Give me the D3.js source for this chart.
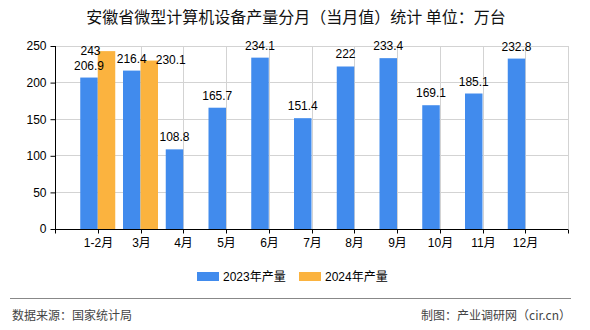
<!DOCTYPE html>
<html><head><meta charset="utf-8">
<script src="https://cdn.jsdelivr.net/npm/d3@7"></script>
<style>body{margin:0;background:#fff}svg{display:block}</style>
</head><body>
<svg id="c" width="590" height="330"></svg>
<script>
const categories = ["1-2月","3月","4月","5月","6月","7月","8月","9月","10月","11月","12月"];
const values2023 = [206.9,216.4,108.8,165.7,234.1,151.4,222,233.4,169.1,185.1,232.8];
const values2024 = [243,230.1,null,null,null,null,null,null,null,null,null];
const seriesNames = ["2023年产量","2024年产量"];
const yTicks = [0,50,100,150,200,250];
const titleText = "安徽省微型计算机设备产量分月（当月值）统计  单位：万台";
const sourceText = "数据来源：国家统计局";
const makerText = "制图：产业调研网（cir.cn）";

const colors = ["#418bed","#fbb33f"];
const font = "'Liberation Sans','Noto Sans CJK SC',sans-serif";
const cjk = "'Noto Sans CJK SC',sans-serif";
const svg = d3.select("#c");
const L=55,R=568,T=46,B=229;
const x = d3.scaleBand().domain(categories).range([L,R]).paddingInner(0).paddingOuter(0.5);
const y = d3.scaleLinear().domain([0,250]).range([B,T]);
const bw = 17.5;
const cx = c => x(c)+x.bandwidth()/2;

svg.append("text").attr("x",296).attr("y",23).attr("text-anchor","middle")
  .attr("font-family",cjk).attr("font-size",16).attr("fill","#111").text(titleText);

// grid
const g = svg.append("g");
g.selectAll("line.h").data(yTicks.filter(d=>d>0)).join("line")
  .attr("x1",L).attr("x2",R).attr("y1",d=>y(d)).attr("y2",d=>y(d))
  .attr("stroke","#d3d3d3").attr("stroke-width",1).attr("shape-rendering","crispEdges");
const vx = categories.map(cx).concat([R]);
g.selectAll("line.v").data(vx).join("line")
  .attr("x1",d=>Math.round(d)).attr("x2",d=>Math.round(d)).attr("y1",T).attr("y2",B)
  .attr("stroke","#d3d3d3").attr("stroke-width",1).attr("shape-rendering","crispEdges");

// bars
const data = categories.map((c,i)=>({c,v:[values2023[i],values2024[i]]}));
[0,1].forEach(s=>{
  const arr = s===0?values2023:values2024;
  svg.append("g").selectAll("rect").data(categories.map((c,i)=>({c,v:arr[i]})).filter(d=>d.v!=null)).join("rect")
    .attr("x",d=>s===0?cx(d.c)-bw:cx(d.c)).attr("width",bw)
    .attr("y",d=>y(d.v)).attr("height",d=>B-y(d.v)).attr("fill",colors[s]);
});

// labels
svg.append("g").selectAll("text").data(categories.map((c,i)=>({c,v:values2023[i]}))).join("text")
  .attr("x",d=>cx(d.c)-bw/2).attr("y",d=>y(d.v)-8).attr("text-anchor","middle")
  .attr("font-family",font).attr("font-size",12).attr("fill","#000").text(d=>d.v);
const shift2024 = [-16, 21.5];
svg.append("g").selectAll("text").data(categories.map((c,i)=>({c,v:values2024[i],i})).filter(d=>d.v!=null)).join("text")
  .attr("x",d=>cx(d.c)+bw/2+shift2024[d.i]).attr("y",d=>y(d.v)+3.5).attr("text-anchor","middle")
  .attr("font-family",font).attr("font-size",12).attr("fill","#000").text(d=>d.v);

// axes
const ya = svg.append("g").attr("transform",`translate(${L+0.5},0)`)
  .call(d3.axisLeft(y).tickValues(yTicks).tickSize(5).tickPadding(4));
ya.selectAll("text").attr("font-family",font).attr("font-size",12).attr("fill","#000");
ya.select(".domain").attr("stroke","#000").attr("d",`M0,${T}V${B}`);
ya.selectAll(".tick line").attr("stroke","#000");

const xa = svg.append("g").attr("transform",`translate(0,${B+0.5})`)
  .call(d3.axisBottom(x).tickSize(4).tickPadding(5));
xa.selectAll("text").attr("font-family",font).attr("font-size",12).attr("fill","#000");
xa.select(".domain").attr("stroke","#000").attr("d",`M${L},0H${R}`);
xa.selectAll(".tick line").attr("stroke","#000");
xa.selectAll(".tick").attr("transform",d=>`translate(${Math.round(cx(d))+0.5},0)`);
[L,R].forEach(px=>xa.append("line").attr("x1",px+0.5).attr("x2",px+0.5).attr("y1",0).attr("y2",4).attr("stroke","#000"));

// legend
const leg = [{x:197,tx:223},{x:299,tx:325}];
leg.forEach((p,i)=>{
  svg.append("rect").attr("x",p.x).attr("y",272).attr("width",22).attr("height",9).attr("fill",colors[i]);
  svg.append("text").attr("x",p.tx).attr("y",281).attr("font-family",font).attr("font-size",12).attr("fill","#000").text(seriesNames[i]);
});

// footer
svg.append("line").attr("x1",10).attr("x2",571).attr("y1",298.5).attr("y2",298.5).attr("stroke","#888").attr("stroke-width",1);
svg.append("text").attr("x",12).attr("y",320).attr("font-family",cjk).attr("font-size",12).attr("fill","#444").text(sourceText);
svg.append("text").attr("x",571).attr("y",320).attr("text-anchor","end").attr("font-family",cjk).attr("font-size",12).attr("fill","#444").text(makerText);
</script>
</body></html>
